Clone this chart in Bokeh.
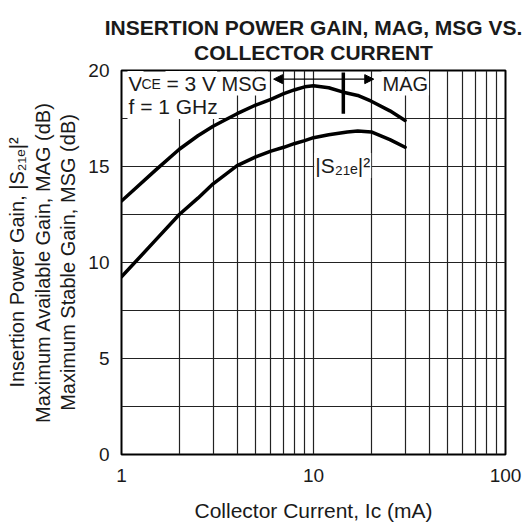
from bokeh.plotting import figure
from bokeh.models import FixedTicker, Label, Arrow, NormalHead
from bokeh.embed import file_html
from bokeh.resources import INLINE

# ---- data ----
current_msg = [1, 1.5, 2, 2.5, 3, 3.5, 4, 5, 6, 7, 8, 9, 10, 12, 14.3, 17, 20, 25, 30]
gain_msg = [13.2, 14.8, 15.9, 16.6, 17.1, 17.45, 17.75, 18.2, 18.5, 18.8, 19.0, 19.15, 19.2, 19.1, 18.87, 18.7, 18.4, 17.9, 17.4]

current_s21 = [1, 1.5, 2, 2.5, 3, 3.5, 4, 5, 6, 7, 8, 9, 10, 12, 15, 17, 20, 25, 30]
gain_s21 = [9.25, 11.15, 12.5, 13.35, 14.1, 14.6, 15.05, 15.5, 15.8, 16.0, 16.2, 16.35, 16.5, 16.65, 16.8, 16.85, 16.8, 16.4, 16.0]

x_major = [1, 10, 100]
x_minor = [2, 3, 4, 5, 6, 7, 8, 9, 20, 30, 40, 50, 60, 70, 80, 90]
y_major = [0, 5, 10, 15, 20]
y_minor = [2.5, 7.5, 12.5, 17.5]

arrow_y = 19.55
arrow_x_left = 6.2
arrow_x_right = 20.6
boundary_x = [14.3]
boundary_y0 = [17.75]
boundary_y1 = [19.9]

title_lines = ["INSERTION POWER GAIN, MAG, MSG VS.", "COLLECTOR CURRENT"]
x_label = "Collector Current, I\u1d04 (mA)"
y_label = ("Insertion Power Gain, |S\u2082\u2081\u2091|\u00b2\n"
           "Maximum Available Gain, MAG (dB)\n"
           "Maximum Stable Gain, MSG (dB)")

FONT = "Liberation Sans"
INK = "#1a1a1a"

p = figure(width=523, height=524, x_axis_type="log", x_range=(1, 100), y_range=(0, 20),
           output_backend="svg", toolbar_location=None,
           title="\n".join(title_lines),
           min_border_left=121, min_border_top=70, min_border_right=18, min_border_bottom=70)

p.title.align = "center"
p.title.text_align = "center"
p.title.vertical_align = "top"
p.title.text_font = FONT
p.title.text_font_size = "21px"
p.title.text_font_style = "bold"
p.title.text_color = INK
p.title.text_line_height = 1.1
p.title.standoff = 10

p.outline_line_color = "black"
p.outline_line_width = 2
p.background_fill_color = "white"

p.xaxis.ticker = FixedTicker(ticks=x_major, minor_ticks=x_minor)
p.yaxis.ticker = FixedTicker(ticks=y_major, minor_ticks=y_minor)
p.xaxis.major_label_overrides = {1: "1", 10: "10", 100: "100"}
for ax in (p.xaxis, p.yaxis):
    ax.axis_line_color = None
    ax.major_tick_line_color = None
    ax.minor_tick_line_color = None
    ax.major_label_text_font = FONT
    ax.major_label_text_font_size = "19px"
    ax.major_label_text_color = INK
    ax.axis_label_text_font = FONT
    ax.axis_label_text_font_size = "20px"
    ax.axis_label_text_font_style = "normal"
    ax.axis_label_text_color = INK
p.xaxis.major_label_standoff = 8
p.yaxis.major_label_standoff = 6
p.xaxis.axis_label = x_label
p.xaxis.axis_label_text_font_size = "21px"
p.xaxis.axis_label_standoff = 14
p.yaxis.axis_label = y_label
p.yaxis.axis_label_standoff = 6
p.yaxis.axis_label_text_line_height = 1.17

for g in (p.xgrid, p.ygrid):
    g.grid_line_color = "#222222"
    g.grid_line_width = 1.2
    g.minor_grid_line_color = "#222222"
    g.minor_grid_line_width = 1.2

# curves
p.line(current_msg, gain_msg, line_color="black", line_width=3.5, line_join="round", line_cap="round")
p.line(current_s21, gain_s21, line_color="black", line_width=3.5, line_join="round", line_cap="round")

# MSG / MAG boundary
p.segment(x0=boundary_x, y0=boundary_y0, x1=boundary_x, y1=boundary_y1, line_color="black", line_width=3.5)
p.add_layout(Arrow(start=NormalHead(size=9, fill_color="black", line_color="black"),
                   end=NormalHead(size=9, fill_color="black", line_color="black"),
                   x_start=arrow_x_left, y_start=arrow_y, x_end=arrow_x_right, y_end=arrow_y,
                   line_color="black", line_width=1.3))

def lab(x, y, text, align="left", xoff=0, size="21px", pad=1):
    l = Label(x=x, y=y, text=text, text_align=align, x_offset=xoff, text_baseline="alphabetic",
              text_font=FONT, text_font_size=size, text_color=INK,
              background_fill_color="white", padding=pad, level="underlay")
    p.add_layout(l)
    return l

# V_CE = 3 V  (CE drawn as small letters)
lab(1, 19.32, "V", xoff=6)
lab(1, 19.32, "CE", xoff=20, size="14px", pad=0)
lab(1, 19.32, "= 3 V", xoff=44)
lab(5.8, 19.32, "MSG", align="right", size="20px")
lab(1, 18.12, "f = 1 GHz", xoff=6)
lab(22.6, 19.32, "MAG", size="20px")
lab(14.2, 15.05, "|S\u2082\u2081\u2091|\u00b2", align="center")

open("out.html", "w").write(file_html(p, INLINE))
